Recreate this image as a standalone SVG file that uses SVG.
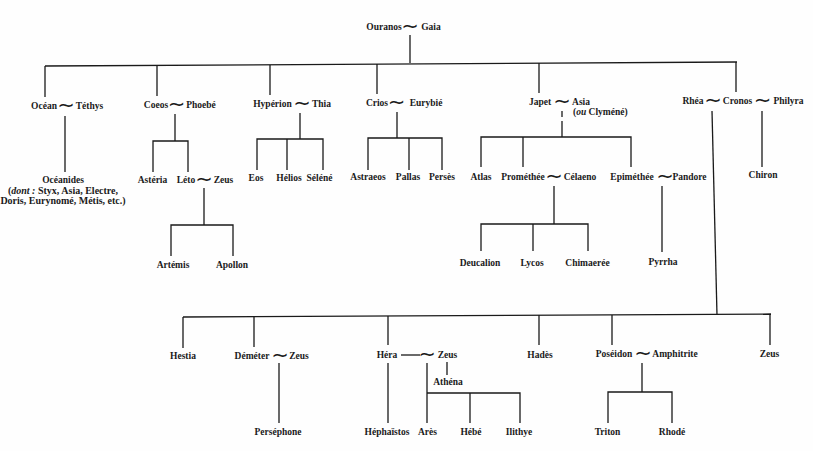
<svg xmlns="http://www.w3.org/2000/svg" width="813" height="451" viewBox="0 0 813 451">
<style>
text{font-family:'Liberation Serif','Times New Roman',serif;font-weight:bold;font-size:9.5px;fill:#1a1a1a;text-anchor:middle}
text.t{font-family:'DejaVu Sans',sans-serif;font-size:21px;font-weight:normal}
text.s{font-size:10px}
text.l{text-anchor:start;font-size:9.5px}
tspan.i{font-style:italic}
#connectors line,#connectors polyline{stroke:#1a1a1a;stroke-width:1.3;fill:none}
</style>
<rect width="813" height="451" fill="#fefefe"/>
<g id="connectors">
<line x1="410" y1="35" x2="410" y2="63"/>
<line x1="45" y1="66" x2="737" y2="62"/>
<line x1="45" y1="66" x2="45" y2="97"/>
<line x1="157" y1="65" x2="157" y2="96"/>
<line x1="270" y1="65" x2="270" y2="95"/>
<line x1="377" y1="64" x2="377" y2="94"/>
<line x1="539" y1="63" x2="539" y2="93"/>
<line x1="736" y1="62" x2="736" y2="92"/>
<line x1="65" y1="116" x2="65" y2="172"/>
<line x1="175" y1="114" x2="175" y2="141"/>
<polyline points="153,172 153,141 188,141 188,172"/>
<line x1="204" y1="188" x2="204" y2="225"/>
<polyline points="171,256 171,225 233,225 233,256"/>
<line x1="300" y1="113" x2="300" y2="139"/>
<polyline points="257,170 257,139 323,139 323,170"/>
<line x1="287" y1="139" x2="287" y2="170"/>
<line x1="397" y1="112" x2="397" y2="138"/>
<polyline points="368,170 368,138 442,138 442,170"/>
<line x1="409" y1="138" x2="409" y2="170"/>
<line x1="562" y1="111" x2="562" y2="117"/>
<line x1="562" y1="121" x2="562" y2="137"/>
<polyline points="481,167 481,137 631,137 631,167"/>
<line x1="523" y1="137" x2="523" y2="167"/>
<line x1="762" y1="111" x2="762" y2="167"/>
<line x1="554" y1="186" x2="554" y2="224"/>
<polyline points="481,251 481,224 588,224 588,251"/>
<line x1="533" y1="224" x2="533" y2="251"/>
<line x1="662" y1="186" x2="662" y2="252"/>
<line x1="712" y1="111" x2="717" y2="315"/>
<line x1="183" y1="317" x2="771" y2="314"/>
<line x1="183" y1="317" x2="183" y2="348"/>
<line x1="254" y1="317" x2="254" y2="347"/>
<line x1="388" y1="316" x2="388" y2="345"/>
<line x1="539" y1="315" x2="539" y2="345"/>
<line x1="612" y1="315" x2="612" y2="345"/>
<line x1="770" y1="314" x2="770" y2="345"/>
<line x1="279" y1="363" x2="279" y2="423"/>
<line x1="388" y1="363" x2="388" y2="423"/>
<line x1="401" y1="355" x2="420" y2="355"/>
<line x1="447" y1="362" x2="447" y2="375"/>
<line x1="427" y1="363" x2="427" y2="423"/>
<polyline points="427,393 520,393 520,423"/>
<line x1="470" y1="393" x2="470" y2="423"/>
<line x1="642" y1="363" x2="642" y2="392"/>
<polyline points="608,423 608,392 672,392 672,423"/>
</g>
<g id="ouranos-gaia"><text x="384" y="30">Ouranos</text><text class="t" x="410" y="33">∼</text><text x="431" y="30">Gaia</text></g>
<g id="ocean-tethys"><text x="44" y="109">Océan</text><text class="t" x="66" y="112">∼</text><text x="89.5" y="109">Téthys</text></g>
<g id="coeos-phoebe"><text x="156" y="108">Coeos</text><text class="t" x="176.5" y="111">∼</text><text x="201" y="108">Phoebé</text></g>
<g id="hyperion-thia"><text x="272.5" y="107">Hypérion</text><text class="t" x="302" y="110">∼</text><text x="321.5" y="107">Thia</text></g>
<g id="crios-eurybie"><text x="377" y="106">Crios</text><text class="t" x="396.5" y="109">∼</text><text x="426" y="106">Eurybié</text></g>
<g id="japet-asia"><text x="540" y="105">Japet</text><text class="t" x="562" y="108">∼</text><text x="581" y="105">Asia</text><text class="l" x="573" y="115">(<tspan class="i">ou</tspan> Clyméné)</text></g>
<g id="rhea-cronos-philyra"><text x="693" y="104">Rhéa</text><text class="t" x="713" y="107">∼</text><text x="737.5" y="104">Cronos</text><text class="t" x="762.5" y="107">∼</text><text x="788.5" y="104">Philyra</text></g>
<g id="oceanides"><text x="63" y="183">Océanides</text><text class="s" x="63" y="194">(<tspan class="i">dont :</tspan> Styx, Asia, Electre,</text><text class="s" x="63" y="204">Doris, Eurynomé, Métis, etc.)</text></g>
<g id="asteria"><text x="152.5" y="183">Astéria</text></g>
<g id="leto-zeus"><text x="186" y="183">Léto</text><text class="t" x="204" y="186">∼</text><text x="223.5" y="183">Zeus</text></g>
<g id="artemis"><text x="173" y="268">Artémis</text></g>
<g id="apollon"><text x="232" y="268">Apollon</text></g>
<g id="eos"><text x="256" y="181">Eos</text></g>
<g id="helios"><text x="289" y="181">Hélios</text></g>
<g id="selene"><text x="319.5" y="181">Séléné</text></g>
<g id="astraeos"><text x="368" y="180">Astraeos</text></g>
<g id="pallas"><text x="408" y="180">Pallas</text></g>
<g id="perses"><text x="442" y="180">Persès</text></g>
<g id="atlas"><text x="481" y="180">Atlas</text></g>
<g id="promethee-celaeno"><text x="523" y="180">Prométhée</text><text class="t" x="554" y="183">∼</text><text x="580" y="180">Célaeno</text></g>
<g id="epimethee-pandore"><text x="632" y="180">Epiméthée</text><text class="t" x="665" y="183">∼</text><text x="689.5" y="180">Pandore</text></g>
<g id="chiron"><text x="763" y="178">Chiron</text></g>
<g id="deucalion"><text x="480" y="266">Deucalion</text></g>
<g id="lycos"><text x="532" y="266">Lycos</text></g>
<g id="chimaeree"><text x="587.5" y="266">Chimaerée</text></g>
<g id="pyrrha"><text x="663" y="265">Pyrrha</text></g>
<g id="hestia"><text x="183" y="359">Hestia</text></g>
<g id="demeter-zeus"><text x="252" y="359">Déméter</text><text class="t" x="280" y="362">∼</text><text x="299" y="359">Zeus</text></g>
<g id="hera-zeus"><text x="387" y="358">Héra</text><text class="t" x="427" y="361">∼</text><text x="447.5" y="358">Zeus</text></g>
<g id="athena"><text x="448" y="385">Athéna</text></g>
<g id="hades"><text x="540" y="358">Hadès</text></g>
<g id="poseidon-amphitrite"><text x="614" y="357">Poséidon</text><text class="t" x="643" y="360">∼</text><text x="675" y="357">Amphitrite</text></g>
<g id="zeus"><text x="769.5" y="357">Zeus</text></g>
<g id="persephone"><text x="278" y="435">Perséphone</text></g>
<g id="hephaistos"><text x="387" y="435">Héphaïstos</text></g>
<g id="ares"><text x="427.5" y="435">Arès</text></g>
<g id="hebe"><text x="471" y="435">Hébé</text></g>
<g id="ilithye"><text x="519" y="435">Ilithye</text></g>
<g id="triton"><text x="607.5" y="435">Triton</text></g>
<g id="rhode"><text x="672" y="435">Rhodé</text></g>
</svg>
